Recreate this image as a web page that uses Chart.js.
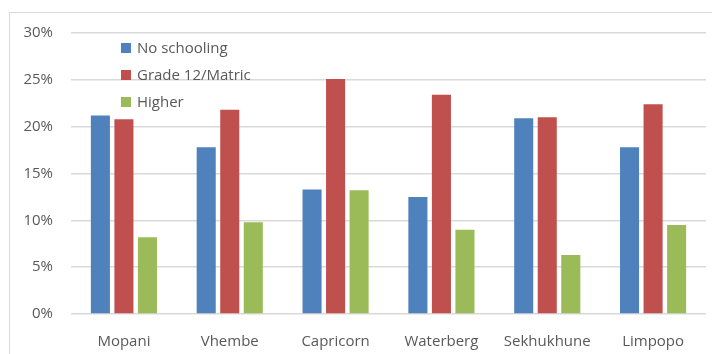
<!DOCTYPE html>
<html>
<head>
<meta charset="utf-8">
<script src="https://cdn.jsdelivr.net/npm/chart.js@4/dist/chart.umd.min.js"></script>
<style>
  html, body { margin: 0; padding: 0; background: #fff; }
  #wrap { width: 712px; height: 354px; position: relative; }
</style>
</head>
<body>
<div id="wrap"><canvas id="chart" width="712" height="354"></canvas></div>
<script>
const districts = ["Mopani", "Vhembe", "Capricorn", "Waterberg", "Sekhukhune", "Limpopo"]
const noSchooling = [21.2, 17.8, 13.3, 12.5, 20.9, 17.8]
const matric = [20.8, 21.8, 25.1, 23.4, 21.0, 22.4]
const higher = [8.2, 9.8, 13.2, 9.0, 6.3, 9.5]
const seriesNames = ["No schooling", "Grade 12/Matric", "Higher"]
const seriesColors = ["#4F81BD", "#C0504D", "#9BBB59"]
const yMax = 30
const yStep = 5

const textColor = "#595959"
const fontFamily = "'Open Sans', 'Liberation Sans', sans-serif"

// frame around the whole chart, like the spreadsheet one
const framePlugin = {
    id: "frame",
    beforeDraw: (chart) => {
        const ctx = chart.ctx
        ctx.save()
        ctx.strokeStyle = "#d9d9d9"
        ctx.lineWidth = 1
        ctx.strokeRect(9.5, 12.5, 740, 400)
        ctx.restore()
    }
}

// legend sits inside the plot, top left
const innerLegend = {
    id: "innerLegend",
    afterDraw: (chart) => {
        const ctx = chart.ctx
        const area = chart.chartArea
        ctx.save()
        ctx.font = "15px " + fontFamily
        ctx.textBaseline = "middle"
        chart.data.datasets.forEach((ds, i) => {
            const y = area.top + 15 + i * 27
            const x = area.left + 50
            ctx.fillStyle = ds.backgroundColor
            ctx.fillRect(x, y - 5, 10, 10)
            ctx.fillStyle = textColor
            ctx.fillText(ds.label, x + 16, y + 1)
        })
        ctx.restore()
    }
}

const ctx = document.querySelector("#chart")
const chart = new Chart(ctx, {
    type: "bar",
    data: {
        labels: districts,
        datasets: [noSchooling, matric, higher].map((vals, i) => ({
            label: seriesNames[i],
            data: vals,
            backgroundColor: seriesColors[i],
            barPercentage: 0.81,
            categoryPercentage: 0.667
        }))
    },
    options: {
        responsive: false,
        animation: false,
        devicePixelRatio: 1,
        layout: { padding: { left: 0, right: 6, top: 33, bottom: 0 } },
        plugins: {
            legend: { display: false },
            tooltip: { enabled: false }
        },
        scales: {
            x: {
                grid: { display: false },
                border: { display: false },
                ticks: {
                    color: textColor,
                    font: { family: fontFamily, size: 15 },
                    padding: 11
                },
                afterFit: (scale) => { scale.height = 40 }
            },
            y: {
                min: 0,
                max: yMax,
                grid: { color: "#d9d9d9", lineWidth: 1.5, drawTicks: false },
                border: { display: false },
                ticks: {
                    stepSize: yStep,
                    color: textColor,
                    font: { family: fontFamily, size: 15 },
                    padding: 18,
                    callback: (v) => v + "%"
                },
                afterFit: (scale) => { scale.width = 71 }
            }
        }
    },
    plugins: [framePlugin, innerLegend]
})
</script>
</body>
</html>
